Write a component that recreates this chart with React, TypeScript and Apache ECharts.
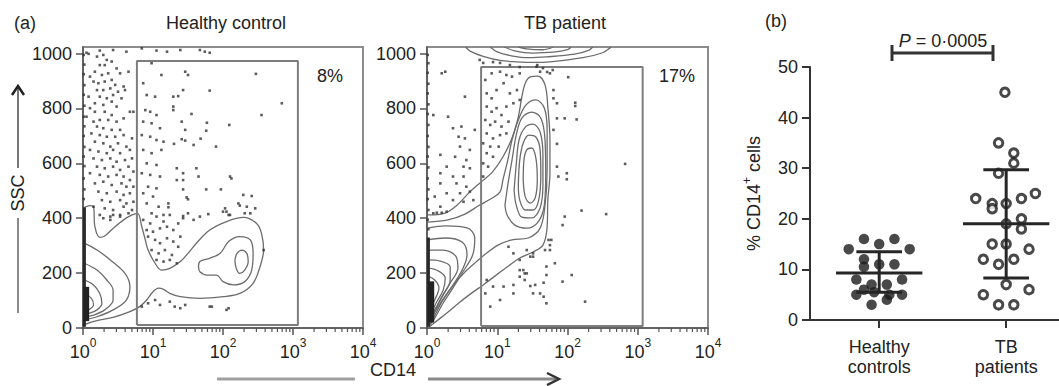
import React, { useEffect, useRef } from "react";
import * as echarts from "echarts";

const FONT = '"Liberation Sans", Arial, Helvetica, sans-serif';

// ---------------- Panel (a): flow cytometry, x = log10(CD14), y = SSC ----------------
const decadeTicks = [0, 1, 2, 3, 4];
const sscTicks = [0, 200, 400, 600, 800, 1000];
const sscMax = 1024;

// Healthy control contours [log10 CD14, SSC]
const hcContourOuter = [[0.02,440],[0.1,446],[0.15,442],[0.17,369],[0.24,330],[0.31,335],[0.43,363],[0.58,394],[0.70,412],[0.78,418],[0.84,369],[0.89,321],[0.93,284],[1.03,236],[1.12,211],[1.24,217],[1.39,242],[1.50,272],[1.62,309],[1.81,357],[2.05,388],[2.29,403],[2.48,381],[2.55,345],[2.58,284],[2.53,224],[2.43,163],[2.24,126],[2.00,114],[1.67,108],[1.39,114],[1.24,126],[1.15,141],[1.08,145],[1.00,132],[0.91,102],[0.81,78],[0.67,60],[0.43,39],[0.20,27],[0.05,15],[0.01,7]];
const hcContourLobe = [[1.65,224],[1.67,242],[1.81,254],[1.96,272],[2.08,315],[2.24,333],[2.39,321],[2.43,272],[2.41,211],[2.31,169],[2.15,157],[2.00,169],[1.91,193],[1.77,193],[1.67,205],[1.65,224]];
const hcContourCore = [[2.17,248],[2.20,272],[2.27,284],[2.34,272],[2.36,242],[2.31,211],[2.24,199],[2.19,217],[2.17,248]];
const hcContourLL1 = [[0.02,309],[0.20,284],[0.39,248],[0.60,199],[0.67,151],[0.62,102],[0.43,66],[0.20,41],[0.02,30]];
const hcContourLL2 = [[0.02,236],[0.20,211],[0.34,175],[0.43,138],[0.43,102],[0.31,66],[0.15,47],[0.02,40]];
const hcContourLL3 = [[0.02,175],[0.15,157],[0.24,126],[0.27,90],[0.20,66],[0.08,53],[0.02,50]];
const hcContourLL4 = [[0.02,126],[0.12,108],[0.15,84],[0.08,66],[0.02,62]];
const hcContours = [hcContourOuter, hcContourLobe, hcContourCore, hcContourLL1, hcContourLL2, hcContourLL3, hcContourLL4];

const hcGateX = [0.77, 3.07];
const hcGateY = [11, 973];
const hcPercent = "8%";

const hcAxisPile = [[0.02, 5], [0.02, 440]];
const hcAxisCore = [[0.045, 25], [0.045, 150]];
const hcAxisDots = [[0.01,470],[0.02,505],[0.01,545],[0.02,590],[0.01,625],[0.02,660],[0.01,700],[0.02,735],[0.01,770],[0.02,810],[0.01,850],[0.02,885],[0.01,925],[0.02,960],[0.01,995]];

const hcDots = [
  [0.05,1003],[0.24,1011],[0.43,1013],[0.62,1007],[0.84,1019],[1.05,1011],[1.20,1007],[1.39,1013],[1.67,1013],[1.74,1007],[1.81,1003],
  [0.08,999],[0.2,989],[0.29,995],[0.34,977],[0.24,958],[0.31,958],[0.41,971],[0.48,946],[0.17,934],[0.10,916],[0.27,922],[0.36,928],[0.53,928],[0.65,934],
  [0.15,898],[0.22,892],[0.31,898],[0.41,904],[0.46,886],[0.58,880],[0.20,867],[0.29,867],[0.39,873],[0.50,861],[0.60,867],
  [0.08,843],[0.24,843],[0.34,837],[0.43,849],[0.55,837],[0.17,819],[0.29,813],[0.41,825],[0.48,807],[0.67,788],[0.72,788],
  [0.10,801],[0.05,770],[0.17,788],[0.31,788],[0.41,776],[0.24,758],[0.15,752],[0.36,758],[0.48,752],[0.58,764],
  [0.20,734],[0.29,728],[0.41,722],[0.53,722],[0.12,709],[0.24,703],[0.34,697],[0.46,697],[0.58,703],[0.70,691],
  [0.17,679],[0.29,673],[0.39,661],[0.50,673],[0.62,661],[0.10,649],[0.22,643],[0.34,637],[0.43,649],[0.53,637],[0.67,649],
  [0.15,618],[0.27,612],[0.39,618],[0.48,606],[0.60,612],[0.70,618],[0.20,588],[0.31,582],[0.43,588],[0.53,576],[0.65,588],[0.72,570],
  [0.10,564],[0.24,558],[0.36,552],[0.48,558],[0.58,552],[0.67,539],[0.17,527],[0.29,533],[0.41,521],[0.55,527],[0.62,515],[0.72,515],
  [0.22,497],[0.34,491],[0.48,497],[0.58,485],[0.67,491],[0.27,466],[0.39,460],[0.53,466],[0.62,454],[0.72,460],
  [0.15,442],[0.31,436],[0.43,430],[0.58,442],[0.70,430],[0.24,412],[0.39,406],[0.53,412],
  [0.86,892],[0.98,965],[1.12,922],[0.91,849],[1.03,843],[0.89,794],[0.96,788],[1.05,776],[0.86,752],[0.98,746],[1.10,728],
  [0.84,703],[0.96,697],[1.05,685],[1.15,679],[0.86,649],[0.98,637],[1.12,649],[0.91,600],[1.05,594],[0.84,564],[0.96,558],[1.10,552],
  [0.93,515],[1.05,509],[0.86,491],[1.00,479],[0.91,454],[1.08,442],[0.98,418],[1.15,412],
  [1.46,934],[1.50,922],[2.47,926],[2.84,819],[1.43,867],[1.81,865],[1.29,843],[1.36,845],[1.29,807],[1.29,794],[2.55,776],[1.55,780],
  [1.41,752],[2.09,740],[1.77,748],[1.46,722],[1.76,719],[1.41,688],[1.46,683],[1.68,690],[1.30,671],[1.58,667],[1.90,661],
  [1.34,582],[1.43,564],[1.62,582],[1.34,539],[1.43,539],[1.65,552],[2.10,552],[2.12,545],[1.43,505],[1.76,505],[1.97,505],
  [1.48,476],[1.50,469],[2.29,485],[2.41,481],[1.22,454],[1.22,440],[2.22,454],[2.24,446],[2.34,442],[2.46,436],[2.03,436],[2.05,424],
  [2.08,412],[2.31,418],[1.43,408],[1.79,415],
  [0.65,418],[0.43,412],[0.53,406],[0.29,400],[0.39,394],[0.86,394],[0.96,381],[1.05,406],[1.15,388],[1.24,412],[0.91,357],[1.00,351],
  [1.10,363],[1.20,369],[1.29,357],[1.36,381],[1.43,400],[1.50,418],[1.58,394],[1.67,406],[2.00,424],[2.10,412],[2.39,418],
  [0.93,333],[1.03,321],[1.10,309],[1.20,327],[1.29,315],[1.39,333],[0.98,284],[1.08,272],[1.17,284],[1.27,266],[1.36,296],
  [1.05,248],[1.15,242],[1.24,248],[1.34,236],[2.58,284],[0.84,78],[0.93,90],[1.03,102],[1.10,84],[1.24,96],[1.31,78],[1.39,72],
  [1.81,78],[2.08,72],[1.84,78],[2.05,66],[1.46,84]
];

// TB patient contours [log10 CD14, SSC]
const tbContourOuter = [[0.01,412],[0.26,419],[0.43,448],[0.61,496],[0.77,532],[0.93,568],[1.08,623],[1.21,692],[1.30,769],[1.35,842],[1.40,893],[1.47,915],[1.58,918],[1.68,886],[1.72,805],[1.75,685],[1.75,565],[1.72,466],[1.71,368],[1.65,302],[1.51,277],[1.32,255],[1.14,222],[0.97,190],[0.80,157],[0.64,128],[0.47,95],[0.30,58],[0.14,26],[0.03,4]];
const tbContourBridge = [[0.01,386],[0.30,394],[0.54,415],[0.75,448],[0.93,474],[1.04,496],[1.08,539],[1.15,612],[1.21,685],[1.30,758],[1.41,813],[1.55,831],[1.67,802],[1.71,722],[1.71,576],[1.68,448],[1.61,364],[1.44,328],[1.21,321],[1.01,302],[0.85,273],[0.70,241],[0.54,204],[0.40,164],[0.26,117],[0.13,66],[0.04,22]];
const tbCentral1 = [[1.11,448],[1.15,521],[1.21,612],[1.27,703],[1.35,765],[1.49,787],[1.62,765],[1.68,685],[1.69,558],[1.67,448],[1.58,386],[1.42,364],[1.25,375],[1.14,412],[1.11,448]];
const tbCentral2 = [[1.24,503],[1.27,594],[1.31,685],[1.40,732],[1.51,743],[1.61,714],[1.65,630],[1.65,521],[1.61,437],[1.49,401],[1.35,404],[1.27,448],[1.24,503]];
const tbCentral3 = [[1.30,521],[1.32,612],[1.37,674],[1.45,703],[1.55,696],[1.61,649],[1.62,558],[1.59,466],[1.51,430],[1.40,430],[1.32,466],[1.30,521]];
const tbCentral4 = [[1.37,539],[1.38,612],[1.42,649],[1.49,656],[1.55,619],[1.57,539],[1.54,474],[1.47,455],[1.40,477],[1.37,539]];
const tbBlob1 = [[0.01,364],[0.26,372],[0.58,364],[0.68,328],[0.65,266],[0.51,204],[0.37,146],[0.23,91],[0.11,36],[0.03,7]];
const tbBlob2 = [[0.01,321],[0.26,328],[0.50,313],[0.57,266],[0.50,211],[0.36,153],[0.21,95],[0.10,40],[0.03,11]];
const tbBlob3 = [[0.01,284],[0.23,284],[0.41,262],[0.44,219],[0.33,164],[0.20,109],[0.09,51],[0.03,20]];
const tbBlob4 = [[0.01,248],[0.19,244],[0.33,222],[0.33,175],[0.23,120],[0.11,66],[0.04,29]];
const tbBlob5 = [[0.01,219],[0.16,208],[0.26,182],[0.23,138],[0.13,91],[0.06,51]];
const tbBlob6 = [[0.01,189],[0.11,175],[0.17,146],[0.11,102],[0.04,66]];
const tbBlob7 = [[0.01,160],[0.07,146],[0.09,113],[0.03,84]];
const tbTop1 = [[0.55,1024],[0.62,1008],[0.80,990],[1.04,975],[1.28,970],[1.51,968],[1.75,970],[2.22,985],[2.50,1003],[2.60,1020],[2.62,1024]];
const tbTop2 = [[0.90,1024],[1.00,1006],[1.20,992],[1.45,985],[1.70,988],[2.10,998],[2.30,1012],[2.36,1024]];
const tbTop3 = [[1.10,1024],[1.25,1010],[1.50,1002],[1.80,1005],[2.00,1014],[2.05,1024]];
const tbTop4 = [[1.30,1024],[1.45,1016],[1.65,1014],[1.80,1024]];
const tbContours = [tbContourOuter, tbContourBridge, tbCentral1, tbCentral2, tbCentral3, tbCentral4, tbBlob1, tbBlob2, tbBlob3, tbBlob4, tbBlob5, tbBlob6, tbBlob7, tbTop1, tbTop2, tbTop3, tbTop4];

const tbGateX = [0.77, 3.07];
const tbGateY = [7, 951];
const tbPercent = "17%";

const tbAxisPile = [[0.02, 5], [0.02, 330]];
const tbAxisCore = [[0.06, 20], [0.06, 170]];
const tbAxisDots = [[0.02,360],[0.01,395],[0.02,430],[0.01,470],[0.02,505],[0.01,545],[0.02,585],[0.01,625],[0.02,660],[0.01,700],[0.02,740],[0.01,780],[0.02,815],[0.01,855],[0.02,890],[0.01,930],[0.02,965],[0.01,995]];

const tbDots = [
  [0.75,977],[0.80,966],[0.94,969],[1.04,966],[1.18,958],[1.32,951],[1.57,958],[1.65,947],[1.71,933],[1.79,940],
  [0.21,928],[0.26,934],[0.54,843],[0.09,776],[0.30,770],[0.49,734],[0.37,728],[0.68,722],[0.45,697],[0.54,691],[0.47,661],[0.61,649],
  [0.19,631],[0.40,624],[0.56,612],[0.28,588],[0.52,588],[0.61,582],[0.19,564],[0.37,552],[0.52,552],[0.19,527],[0.42,527],[0.56,515],
  [0.28,491],[0.47,491],[0.61,497],[0.11,479],[0.37,466],[0.52,460],[0.66,466],[0.19,442],[0.28,424],[0.14,420],[0.21,420],[0.09,418],
  [0.83,904],[0.92,928],[1.04,934],[1.13,922],[0.99,867],[0.85,855],[1.09,892],[1.21,916],[1.32,928],[0.85,807],[0.92,788],[0.99,801],
  [1.06,776],[1.13,807],[1.23,819],[1.32,831],[0.83,758],[0.90,740],[0.97,752],[1.06,734],[1.16,752],[0.85,709],[0.94,691],[1.04,703],
  [1.13,709],[0.80,673],[0.90,661],[1.02,661],[0.85,637],[0.94,624],[0.80,600],[0.87,588],[0.80,552],[0.92,837],[1.28,867],[1.18,855],
  [1.16,296],[1.23,272],[1.32,248],[1.42,284],[1.51,260],[1.32,211],[1.39,199],[1.32,187],[1.09,151],[1.23,157],[0.85,175],[0.94,151],
  [0.83,126],[1.04,102],[1.23,126],[0.90,78],[1.51,126],[1.66,114],[1.70,224],[1.75,284],[1.77,321],
  [1.56,952],[1.61,934],[1.75,928],[2.01,914],[1.80,867],[1.80,837],[1.85,819],[2.11,821],[2.11,809],[1.85,764],[1.96,764],[2.13,760],
  [1.80,722],[1.85,671],[1.85,588],[1.87,552],[1.99,564],[1.99,542],[2.82,598],[2.20,428],[2.55,415],[1.96,406],[1.93,375],[1.73,321],
  [1.75,302],[1.68,284],[1.82,236],[1.70,193],[2.06,193],[1.93,169],[1.66,165],[1.54,157],[1.47,153],[1.70,90],[2.25,96],[1.37,211],
  [1.42,199],[1.39,175],[1.47,260],[1.51,272],[1.61,126]
];

// ---------------- Panel (b): % CD14+ cells ----------------
const groupNames = ["Healthy\ncontrols", "TB\npatients"];
const hcPct = [16, 16, 15, 14, 14, 12, 10.5, 11, 11, 8, 8, 7, 7, 6, 5, 5.5, 5, 5, 4, 3];
const hcSwarm = [-0.12, 0.12, 0, -0.24, 0.24, -0.12, -0.12, 0, 0.12, -0.18, 0.18, -0.06, 0.06, -0.12, -0.18, -0.04, 0.08, 0.18, 0.06, -0.06];
const tbPct = [45, 35, 33, 31, 29, 24, 25, 24, 23, 23, 22, 19, 20, 18, 15, 15, 14, 12, 12, 11, 7, 5, 6, 3, 3];
const tbSwarm = [-0.01, -0.06, 0.06, 0.06, -0.06, -0.24, 0.23, 0.12, -0.11, 0, -0.11, 0, 0.12, 0.12, -0.11, 0, 0.18, -0.18, 0.06, -0.06, 0, -0.18, 0.18, -0.06, 0.06];
const groupMean = [9.3, 19.0];
const groupUpper = [13.5, 29.7];
const groupLower = [5.5, 8.3];
const pLabel = "0·0005";

const minorTickValues: number[] = [];
for (let d = 0; d < 4; d++) for (let k = 2; k <= 9; k++) minorTickValues.push(d + Math.log10(k));

const CONTOUR = "#6c6c6c";
const DOT = "#333";

function flowSeries(xi: number, yi: number, contours: number[][][], gx: number[], gy: number[], dots: number[][], pile: number[][], core: number[][], axisDots: number[][]) {
  const s: any[] = [];
  contours.forEach((c) => {
    s.push({ type: "line", xAxisIndex: xi, yAxisIndex: yi, data: c, showSymbol: false, smooth: 0.35, silent: true, z: 3,
      lineStyle: { color: CONTOUR, width: 1.3 } });
  });
  s.push({ type: "line", xAxisIndex: xi, yAxisIndex: yi, showSymbol: false, silent: true, z: 4,
    data: [[gx[0], gy[0]], [gx[0], gy[1]], [gx[1], gy[1]], [gx[1], gy[0]], [gx[0], gy[0]]],
    lineStyle: { color: "#7d7d7d", width: 2 } });
  s.push({ type: "scatter", xAxisIndex: xi, yAxisIndex: yi, data: dots.concat(axisDots), symbol: "rect", symbolSize: 2.6, silent: true, z: 5,
    itemStyle: { color: DOT } });
  s.push({ type: "line", xAxisIndex: xi, yAxisIndex: yi, data: pile, showSymbol: false, silent: true, z: 5,
    lineStyle: { color: "#2a2a2a", width: 3 } });
  s.push({ type: "line", xAxisIndex: xi, yAxisIndex: yi, data: core, showSymbol: false, silent: true, z: 5,
    lineStyle: { color: "#222", width: 6 } });
  s.push({ type: "custom", xAxisIndex: xi, yAxisIndex: yi, clip: false, silent: true, z: 6,
    data: minorTickValues.map((v) => [v, 0]), encode: { x: 0, y: 1 },
    renderItem: (_p: any, api: any) => {
      const pt = api.coord([api.value(0), 0]);
      return { type: "line", shape: { x1: pt[0], y1: pt[1], x2: pt[0], y2: pt[1] + 4 }, style: { stroke: "#555", lineWidth: 1.2 } };
    } });
  return s;
}

function flowXAxis(gridIndex: number) {
  return {
    type: "value", gridIndex, min: 0, max: 4, interval: 1, position: "bottom",
    axisLine: { show: true, onZero: false, lineStyle: { color: "#555", width: 1.5 } },
    axisTick: { show: true, length: 7, customValues: decadeTicks, lineStyle: { color: "#555", width: 1.5 } },
    splitLine: { show: false },
    axisLabel: {
      customValues: decadeTicks, margin: 9, color: "#222", fontFamily: FONT,
      formatter: (v: number) => `{b|10}{s|${Math.round(v)}}`,
      rich: {
        b: { fontSize: 18, fontFamily: FONT, color: "#222", lineHeight: 24, verticalAlign: "bottom" },
        s: { fontSize: 12, fontFamily: FONT, color: "#222", lineHeight: 24, verticalAlign: "top" },
      },
    },
  };
}

function flowYAxis(gridIndex: number) {
  return {
    type: "value", gridIndex, min: 0, max: sscMax,
    axisLine: { show: true, onZero: false, lineStyle: { color: "#555", width: 1.5 } },
    axisTick: { show: true, length: 7, customValues: sscTicks, lineStyle: { color: "#555", width: 1.5 } },
    splitLine: { show: false },
    axisLabel: { customValues: sscTicks, margin: 11, fontSize: 18, fontFamily: FONT, color: "#222",
      formatter: (v: number) => String(Math.round(v)) },
  };
}

function txt(text: string, x: number, y: number, extra: any = {}) {
  return {
    type: "text", x, y, silent: true, ...extra,
    style: { text, fontSize: 18, fontFamily: FONT, fill: "#222", align: "center", verticalAlign: "middle",
      textAlign: "center", textVerticalAlign: "middle", ...(extra.style || {}) },
  };
}

export default function App() {
  const ref = useRef<HTMLDivElement>(null);
  useEffect(() => {
    if (!ref.current) return;
    const chart = echarts.init(ref.current, undefined, { renderer: "svg" });
    const hcData = hcPct.map((v, i) => [1 + hcSwarm[i], v]);
    const tbData = tbPct.map((v, i) => [2 + tbSwarm[i], v]);
    const statData = groupMean.map((m, i) => [i + 1, m, groupUpper[i], groupLower[i]]);

    const option: any = {
      animation: false,
      backgroundColor: "#fff",
      grid: [
        { left: 83, top: 47, width: 280, height: 281, show: true, borderColor: "#8c8c8c", borderWidth: 2, backgroundColor: "transparent", outerBoundsMode: "none" },
        { left: 427, top: 47, width: 281, height: 281, show: true, borderColor: "#8c8c8c", borderWidth: 2, backgroundColor: "transparent", outerBoundsMode: "none" },
        { left: 810, top: 67, width: 249, height: 253, outerBoundsMode: "none" },
      ],
      xAxis: [
        flowXAxis(0),
        flowXAxis(1),
        {
          type: "value", gridIndex: 2, min: 0.455, max: 2.416,
          axisLine: { show: true, onZero: false, lineStyle: { color: "#333", width: 2 } },
          axisTick: { show: true, length: 8, customValues: [1, 2], lineStyle: { color: "#333", width: 2 } },
          splitLine: { show: false },
          axisLabel: { customValues: [1, 2], margin: 17, fontSize: 18, lineHeight: 20, fontFamily: FONT, color: "#222",
            formatter: (v: number) => groupNames[Math.round(v) - 1] || "" },
        },
      ],
      yAxis: [
        flowYAxis(0),
        flowYAxis(1),
        {
          type: "value", gridIndex: 2, min: 0, max: 50, interval: 10,
          axisLine: { show: true, onZero: false, lineStyle: { color: "#333", width: 2 } },
          axisTick: { show: true, length: 8, lineStyle: { color: "#333", width: 2 } },
          splitLine: { show: false },
          axisLabel: { margin: 12, fontSize: 18, fontFamily: FONT, color: "#222" },
          name: "{a|% CD14}{s|+}{a| cells}", nameLocation: "middle", nameGap: 47, nameRotate: 90,
          nameTextStyle: { fontSize: 18, fontFamily: FONT, color: "#222",
            rich: { a: { fontSize: 18, fontFamily: FONT, color: "#222", lineHeight: 22, verticalAlign: "bottom" },
                    s: { fontSize: 12, fontFamily: FONT, color: "#222", lineHeight: 22, verticalAlign: "top" } } },
        },
      ],
      series: [
        ...flowSeries(0, 0, hcContours, hcGateX, hcGateY, hcDots, hcAxisPile, hcAxisCore, hcAxisDots),
        ...flowSeries(1, 1, tbContours, tbGateX, tbGateY, tbDots, tbAxisPile, tbAxisCore, tbAxisDots),
        { type: "scatter", xAxisIndex: 2, yAxisIndex: 2, data: hcData, symbol: "circle", symbolSize: 10.5, z: 3,
          itemStyle: { color: "#1c1c1c" } },
        { type: "scatter", xAxisIndex: 2, yAxisIndex: 2, data: tbData, symbol: "circle", symbolSize: 8.5, z: 3,
          itemStyle: { color: "#fff", borderColor: "#1c1c1c", borderWidth: 3 } },
        { type: "custom", xAxisIndex: 2, yAxisIndex: 2, data: statData, encode: { x: 0, y: 1 }, z: 5, silent: true, clip: false,
          renderItem: (_p: any, api: any) => {
            const x = api.value(0);
            const pm = api.coord([x, api.value(1)]);
            const pu = api.coord([x, api.value(2)]);
            const pl = api.coord([x, api.value(3)]);
            const half = api.size([0.34, 0])[0];
            const cap = api.size([0.18, 0])[0];
            const st = { stroke: "#262626", lineWidth: 3 };
            return { type: "group", children: [
              { type: "line", shape: { x1: pm[0] - half, y1: pm[1], x2: pm[0] + half, y2: pm[1] }, style: st },
              { type: "line", shape: { x1: pu[0] - cap, y1: pu[1], x2: pu[0] + cap, y2: pu[1] }, style: st },
              { type: "line", shape: { x1: pl[0] - cap, y1: pl[1], x2: pl[0] + cap, y2: pl[1] }, style: st },
              { type: "line", shape: { x1: pu[0], y1: pu[1], x2: pl[0], y2: pl[1] }, style: st },
            ] };
          } },
      ],
      graphic: [
        txt("(a)", 25, 23),
        txt("Healthy control", 226, 23),
        txt("TB patient", 565, 23),
        txt(hcPercent, 330, 76),
        txt(tbPercent, 677, 76),
        txt("SSC", 18, 193, { rotation: Math.PI / 2 }),
        { type: "line", silent: true, shape: { x1: 18, y1: 313, x2: 18, y2: 218 }, style: { stroke: "#8a8a8a", lineWidth: 2 } },
        { type: "line", silent: true, shape: { x1: 18, y1: 168, x2: 18, y2: 88 }, style: { stroke: "#777", lineWidth: 2 } },
        { type: "polyline", silent: true, shape: { points: [[12, 95], [18, 86], [24, 95]] }, style: { stroke: "#222", lineWidth: 2.5, fill: "none" } },
        txt("CD14", 393, 370),
        { type: "line", silent: true, shape: { x1: 217, y1: 379, x2: 355, y2: 379 }, style: { stroke: "#a0a0a0", lineWidth: 3 } },
        { type: "line", silent: true, shape: { x1: 428, y1: 379, x2: 556, y2: 379 }, style: { stroke: "#8a8a8a", lineWidth: 3 } },
        { type: "polyline", silent: true, shape: { points: [[547, 373], [559, 379], [547, 385]] }, style: { stroke: "#333", lineWidth: 2.5, fill: "none" } },
        txt("(b)", 776, 21),
        { type: "line", silent: true, shape: { x1: 892, y1: 53, x2: 993, y2: 53 }, style: { stroke: "#333", lineWidth: 3 } },
        { type: "line", silent: true, shape: { x1: 892, y1: 45, x2: 892, y2: 61 }, style: { stroke: "#333", lineWidth: 3 } },
        { type: "line", silent: true, shape: { x1: 993, y1: 45, x2: 993, y2: 61 }, style: { stroke: "#333", lineWidth: 3 } },
        { type: "text", x: 943, y: 41, silent: true,
          style: { text: "{i|P} = " + pLabel, fontSize: 18, fontFamily: FONT, fill: "#222", align: "center", verticalAlign: "middle",
            textAlign: "center", textVerticalAlign: "middle",
            rich: { i: { fontStyle: "italic", fontSize: 18, fontFamily: FONT, fill: "#222" } } } },
      ],
    };
    chart.setOption(option);
    return () => chart.dispose();
  }, []);
  return <div ref={ref} style={{ position: "absolute", left: 0, top: 0, width: 1059, height: 386, background: "#fff" }} />;
}
